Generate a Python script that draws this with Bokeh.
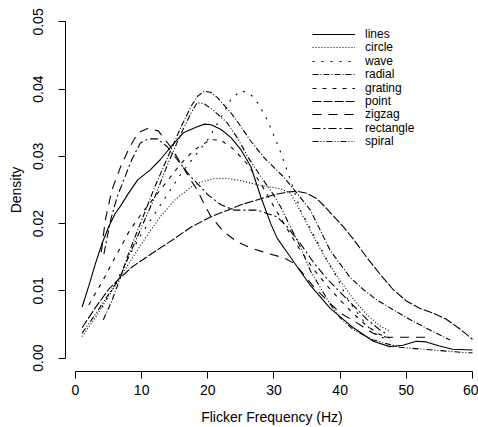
from bokeh.plotting import figure
from bokeh.models import Range1d, FixedTicker, PrintfTickFormatter, Legend, LegendItem
from bokeh.embed import file_html
from bokeh.resources import INLINE

# ---- data (Flicker frequency in Hz, density) ----
lines_x = [1, 2, 3, 4, 5, 6, 6.8, 8, 9.4, 11.3, 12.8, 14.4, 16.3, 18.4, 19.5, 20.5, 22, 23.5, 25, 26.5, 28, 29.5, 30.5, 32.5, 35.5, 38.5, 42, 45, 47.5, 49.5, 51.5, 53, 55, 57, 60]
lines_y = [0.0076, 0.0107, 0.0140, 0.0170, 0.0195, 0.0215, 0.0226, 0.0245, 0.0265, 0.0280, 0.0295, 0.0314, 0.0335, 0.0344, 0.0348, 0.0347, 0.0340, 0.0328, 0.0310, 0.0285, 0.0240, 0.0200, 0.0178, 0.0150, 0.0108, 0.0074, 0.0045, 0.0025, 0.0017, 0.0019, 0.0025, 0.0024, 0.0018, 0.0013, 0.0012]

circle_x = [1, 3, 5, 6.6, 9, 11, 12.8, 15, 17.4, 19, 21, 23, 25, 27, 29, 31, 32.5, 34, 36, 38, 40, 42, 44, 46, 47.5]
circle_y = [0.0032, 0.0060, 0.0092, 0.0118, 0.0155, 0.0185, 0.0210, 0.0235, 0.0254, 0.0262, 0.0267, 0.0267, 0.0264, 0.0259, 0.0255, 0.0252, 0.0245, 0.0218, 0.0180, 0.0145, 0.0115, 0.0088, 0.0065, 0.0048, 0.0040]

wave_x = [4, 6, 8, 10, 12, 14, 16, 18, 20, 22, 23.5, 25, 26.5, 27.5, 29, 30.7, 32.5, 34, 36, 38, 39.5, 41, 42.6, 45, 47.6]
wave_y = [0.0075, 0.0110, 0.0150, 0.0185, 0.0215, 0.0245, 0.0275, 0.0300, 0.0325, 0.0358, 0.0385, 0.0398, 0.0392, 0.0380, 0.0354, 0.0314, 0.0265, 0.0220, 0.0183, 0.0146, 0.0120, 0.0090, 0.0067, 0.0037, 0.0025]

radial_x = [4.2, 5.5, 6.6, 8, 10, 12, 14, 16, 17.5, 18.5, 19.5, 20.5, 21.5, 23.4, 24.6, 26.4, 28.5, 31.4, 33.5, 35.5, 37, 38.5, 40, 41.5, 43.5, 45.6, 48, 50.6, 53.5, 56.6]
radial_y = [0.0057, 0.0085, 0.0115, 0.0155, 0.0205, 0.0255, 0.0300, 0.0345, 0.0375, 0.0390, 0.0397, 0.0395, 0.0387, 0.0366, 0.0350, 0.0324, 0.0298, 0.0270, 0.0245, 0.0220, 0.0190, 0.0160, 0.0140, 0.0120, 0.0102, 0.0086, 0.0072, 0.0057, 0.0042, 0.0027]

grating_x = [2, 4, 6, 8.2, 10, 12, 14, 16, 18, 20.4, 22, 24, 26, 28, 30, 32, 34, 36, 38, 40, 42, 44, 46, 47.5]
grating_y = [0.0079, 0.0113, 0.0150, 0.0190, 0.0215, 0.0240, 0.0265, 0.0290, 0.0310, 0.0325, 0.0324, 0.0310, 0.0288, 0.0260, 0.0225, 0.0192, 0.0160, 0.0132, 0.0108, 0.0086, 0.0066, 0.0048, 0.0035, 0.0030]

point_x = [1, 3, 5, 6.6, 8.5, 10.7, 13, 15, 17.5, 20.4, 23, 25, 28, 30, 32, 33.5, 35, 36.5, 38, 40.5, 42, 44, 46, 48, 50, 52, 54, 56, 58, 60]
point_y = [0.0045, 0.0075, 0.0102, 0.0118, 0.0135, 0.0150, 0.0165, 0.0178, 0.0195, 0.0210, 0.0220, 0.0228, 0.0237, 0.0243, 0.0247, 0.0248, 0.0245, 0.0237, 0.0222, 0.0195, 0.0177, 0.0150, 0.0125, 0.0102, 0.0085, 0.0074, 0.0067, 0.0058, 0.0044, 0.0028]

zigzag_x = [3.9, 4.5, 5.5, 6.8, 8, 9.4, 11, 12.5, 14.4, 15.9, 17.4, 18.4, 19.4, 20.5, 22.4, 24.4, 26.4, 29, 31.5, 33, 34, 36, 38, 40, 42.6, 45, 47, 50, 53.6]
zigzag_y = [0.0158, 0.0205, 0.0250, 0.0284, 0.0310, 0.0335, 0.0342, 0.0338, 0.0314, 0.0290, 0.0265, 0.0250, 0.0230, 0.0210, 0.0188, 0.0173, 0.0164, 0.0156, 0.0149, 0.0141, 0.0130, 0.0106, 0.0086, 0.0067, 0.0052, 0.0037, 0.0031, 0.0031, 0.0031]

rectangle_x = [4.3, 5.3, 6.3, 7.3, 8.5, 9.8, 11, 12.4, 13.9, 15.4, 17.4, 18.4, 20, 22, 24, 27.5, 30.5, 32, 34, 36, 38, 40, 42, 44, 46, 47]
rectangle_y = [0.0155, 0.0205, 0.0240, 0.0265, 0.0295, 0.0320, 0.0326, 0.0326, 0.0314, 0.0295, 0.0270, 0.0260, 0.0243, 0.0228, 0.0220, 0.0220, 0.0210, 0.0195, 0.0170, 0.0142, 0.0118, 0.0098, 0.0078, 0.0058, 0.0042, 0.0036]

spiral_x = [1, 3, 5, 6.6, 8, 10, 12, 14, 16, 17.5, 18.4, 19.5, 20.8, 22.9, 24.5, 26, 28, 30, 31, 32, 34, 35.5, 37, 38.5, 40, 42, 45, 49, 54, 59, 60]
spiral_y = [0.0037, 0.0065, 0.0095, 0.0118, 0.0150, 0.0195, 0.0240, 0.0290, 0.0335, 0.0365, 0.0380, 0.0378, 0.0369, 0.0350, 0.0327, 0.0300, 0.0270, 0.0242, 0.0225, 0.0205, 0.0165, 0.0130, 0.0105, 0.0080, 0.0060, 0.0042, 0.0027, 0.0016, 0.0012, 0.0008, 0.0008]

x_ticks = [0, 10, 20, 30, 40, 50, 60]
y_ticks = [0.00, 0.01, 0.02, 0.03, 0.04, 0.05]

series = [
    ("lines", lines_x, lines_y, "solid"),
    ("circle", circle_x, circle_y, "1 2"),
    ("wave", wave_x, wave_y, "2 7"),
    ("radial", radial_x, radial_y, "6 2 1 2"),
    ("grating", grating_x, grating_y, "4 6"),
    ("point", point_x, point_y, "9 2"),
    ("zigzag", zigzag_x, zigzag_y, "9 7"),
    ("rectangle", rectangle_x, rectangle_y, "8 3 2 3"),
    ("spiral", spiral_x, spiral_y, "6 2 1 2 1 2"),
]

FONT = "Liberation Sans"
FS = "14px"
LEGEND_FS = "12px"

p = figure(width=478, height=427, output_backend="svg", toolbar_location=None,
           x_range=Range1d(-1.511, 60.91), y_range=Range1d(-0.002, 0.052),
           min_border_left=65, min_border_right=0, min_border_top=8, min_border_bottom=56)

renderers = []
for name, xs, ys, dash in series:
    r = p.line(xs, ys, line_color="black", line_width=1.1, line_dash=dash)
    renderers.append((name, r))

p.outline_line_color = None
p.xgrid.visible = False
p.ygrid.visible = False
p.background_fill_color = "white"
p.border_fill_color = "white"

for ax in (p.xaxis[0], p.yaxis[0]):
    ax.major_tick_in = 0
    ax.major_tick_out = 7
    ax.minor_tick_out = 0
    ax.minor_tick_in = 0
    ax.axis_line_color = "black"
    ax.major_tick_line_color = "black"
    ax.major_label_text_font = FONT
    ax.major_label_text_font_size = FS
    ax.major_label_text_color = "black"
    ax.axis_label_text_font = FONT
    ax.axis_label_text_font_size = FS
    ax.axis_label_text_font_style = "normal"
    ax.axis_label_text_color = "black"

p.xaxis.ticker = FixedTicker(ticks=x_ticks)
p.yaxis.ticker = FixedTicker(ticks=y_ticks)
p.xaxis.formatter = PrintfTickFormatter(format="%d")
p.yaxis.formatter = PrintfTickFormatter(format="%.2f")
p.xaxis.bounds = (0, 60)
p.yaxis.bounds = (0, 0.05)
p.yaxis.major_label_orientation = "vertical"
p.xaxis.axis_label = "Flicker Frequency (Hz)"
p.yaxis.axis_label = "Density"
p.xaxis.major_label_standoff = 6
p.xaxis.axis_label_standoff = 11
p.yaxis.major_label_standoff = 15
p.yaxis.axis_label_standoff = 7

# legend: one compact row per series (rows ~13 px apart, like the original)
ROW = 13.4
FIRST_ROW_FROM_TOP = 26   # px below the frame top
FRAME_H = 363
for i, (name, r) in enumerate(renderers):
    center = FIRST_ROW_FROM_TOP + ROW * i
    y_loc = int(round(FRAME_H - center - 8))
    lg = Legend(items=[LegendItem(label=name, renderers=[r])], location=(247, y_loc),
                background_fill_alpha=0, border_line_alpha=0,
                padding=0, margin=0, spacing=0,
                glyph_width=43, glyph_height=16, label_height=16,
                label_standoff=10,
                label_text_font=FONT, label_text_font_size=LEGEND_FS,
                label_text_color="black")
    p.add_layout(lg, "center")

open("out.html", "w").write(file_html(p, INLINE))
